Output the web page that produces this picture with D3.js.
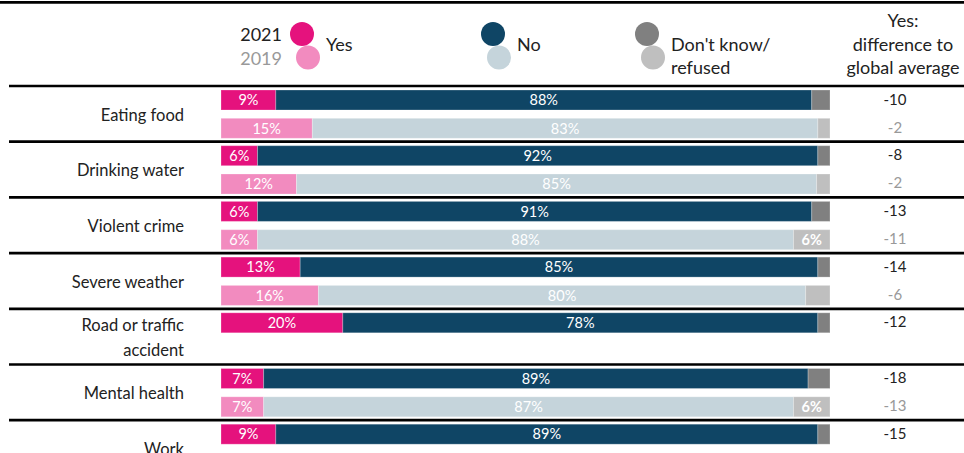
<!DOCTYPE html>
<html>
<head>
<meta charset="utf-8">
<script src="https://cdn.jsdelivr.net/npm/d3@7"></script>
<style>
  body { margin: 0; background: #fff; }
  text { font-family: Lato, "Open Sans", sans-serif; }
</style>
</head>
<body>
<svg id="chart" width="964" height="453"></svg>
<script>
var categories = ["Eating food", "Drinking water", "Violent crime", "Severe weather", "Road or traffic accident", "Mental health", "Work"]
var labelLines = [["Eating food"], ["Drinking water"], ["Violent crime"], ["Severe weather"], ["Road or traffic", "accident"], ["Mental health"], ["Work"]]

// shares in %, labels are rounded
var yes2021 = [9, 6, 6, 13, 20, 7, 9]
var no2021 = [88, 92, 91, 85, 78, 89.4, 89]
var dk2021 = [3, 2, 3, 2, 2, 3.6, 2]

var yes2019 = [15, 12.4, 6, 16, null, 7, null]
var no2019 = [83, 85.4, 88, 80, null, 87, null]
var dk2019 = [2, 2.2, 6, 4, null, 6, null]

var diff2021 = [-10, -8, -13, -14, -12, -18, -15]
var diff2019 = [-2, -2, -11, -6, null, -13, null]

var colors = {
    yes: ["#e5127d", "#f28bbf"],
    no: ["#0f4565", "#c5d4db"],
    dk: ["#808080", "#bfbfbf"]
}

var svg = d3.select("#chart")

var x = d3.scaleLinear().domain([0, 100]).range([221, 830])
var y = d3.scaleLinear().domain([0, categories.length]).range([86, 86 + categories.length * 55.7])

// top rule
svg.append("line").attr("x1", 0).attr("x2", 964).attr("y1", 2.3).attr("y2", 2.3)
    .attr("stroke", "#000").attr("stroke-width", 2.7)

// legend
var legend = svg.append("g")
var legendItems = [
    {key: "yes", cx: 302, tx: 326, lines: ["Yes"]},
    {key: "no", cx: 493, tx: 517, lines: ["No"]},
    {key: "dk", cx: 647, tx: 671, lines: ["Don't know/", "refused"]}
]
legendItems.forEach(function(d) {
    legend.append("circle").attr("cx", d.cx + 6).attr("cy", 57.5).attr("r", 12).attr("fill", colors[d.key][1])
    legend.append("circle").attr("cx", d.cx).attr("cy", 34).attr("r", 12).attr("fill", colors[d.key][0])
    var t = legend.append("text").attr("y", 50.5)
        .style("font-size", "18px").attr("fill", "#222")
    d.lines.forEach(function(l, i) {
        t.append("tspan").attr("x", d.tx).attr("dy", i ? 23.5 : 0).text(l)
    })
})
legend.append("text").attr("x", 282).attr("y", 41).attr("text-anchor", "end")
    .style("font-size", "18px").attr("fill", "#222").text("2021")
legend.append("text").attr("x", 282).attr("y", 64.5).attr("text-anchor", "end")
    .style("font-size", "18px").attr("fill", "#999").text("2019")

var hdr = svg.append("text").attr("text-anchor", "middle").style("font-size", "18px").attr("fill", "#222")
;["Yes:", "difference to", "global average"].forEach(function(l, i) {
    hdr.append("tspan").attr("x", 903).attr("y", 27 + i * 23.5).text(l)
})

// group separators
svg.selectAll("line.sep")
    .data(categories)
    .enter()
    .append("line")
    .attr("class", "sep")
    .attr("x1", 9).attr("x2", 964)
    .attr("y1", function(d, i) { return y(i) })
    .attr("y2", function(d, i) { return y(i) })
    .attr("stroke", "#000").attr("stroke-width", 2.7)

var groups = svg.selectAll("g.grp")
    .data(categories)
    .enter()
    .append("g")
    .attr("class", "grp")
    .attr("transform", function(d, i) { return "translate(0," + y(i) + ")" })

groups.each(function(d, i) {
    var g = d3.select(this)
    var lines = labelLines[i]
    var mid = (y(i + 1) - y(i)) / 2 + 1
    lines.forEach(function(l, j) {
        g.append("text")
            .attr("x", 184)
            .attr("y", mid + (j - (lines.length - 1) / 2) * 25)
            .attr("dy", "0.35em")
            .attr("text-anchor", "end")
            .style("font-size", "16.5px")
            .attr("fill", "#222")
            .text(l)
    })

    var rows = [
        {yr: 0, yes: yes2021[i], no: no2021[i], dk: dk2021[i], diff: diff2021[i], top: 4},
        {yr: 1, yes: yes2019[i], no: no2019[i], dk: dk2019[i], diff: diff2019[i], top: 32.3}
    ]
    rows.forEach(function(r) {
        if (r.yes == null) return
        var segs = [
            {key: "yes", v: r.yes, start: 0},
            {key: "no", v: r.no, start: r.yes},
            {key: "dk", v: r.dk, start: r.yes + r.no}
        ]
        segs.forEach(function(s) {
            g.append("rect")
                .attr("x", x(s.start))
                .attr("y", r.top)
                .attr("width", x(s.start + s.v) - x(s.start))
                .attr("height", 20)
                .attr("fill", colors[s.key][r.yr])
                .attr("stroke", "#fff").attr("stroke-opacity", 0.25).attr("stroke-width", 1)
            if (s.key != "dk" || s.v >= 5) {
                g.append("text")
                    .attr("x", (x(s.start) + x(s.start + s.v)) / 2)
                    .attr("y", r.top + 10)
                    .attr("dy", "0.36em")
                    .attr("text-anchor", "middle")
                    .style("font-size", "14.5px")
                    .style("font-weight", s.key == "dk" ? "bold" : "normal")
                    .attr("fill", "#fff")
                    .text(Math.round(s.v) + "%")
            }
        })
        g.append("text")
            .attr("x", 895)
            .attr("y", r.top + 10)
            .attr("dy", "0.3em")
            .attr("text-anchor", "middle")
            .style("font-size", "15px")
            .attr("fill", r.yr ? "#999" : "#222")
            .text(r.diff)
    })
})
</script>
</body>
</html>
